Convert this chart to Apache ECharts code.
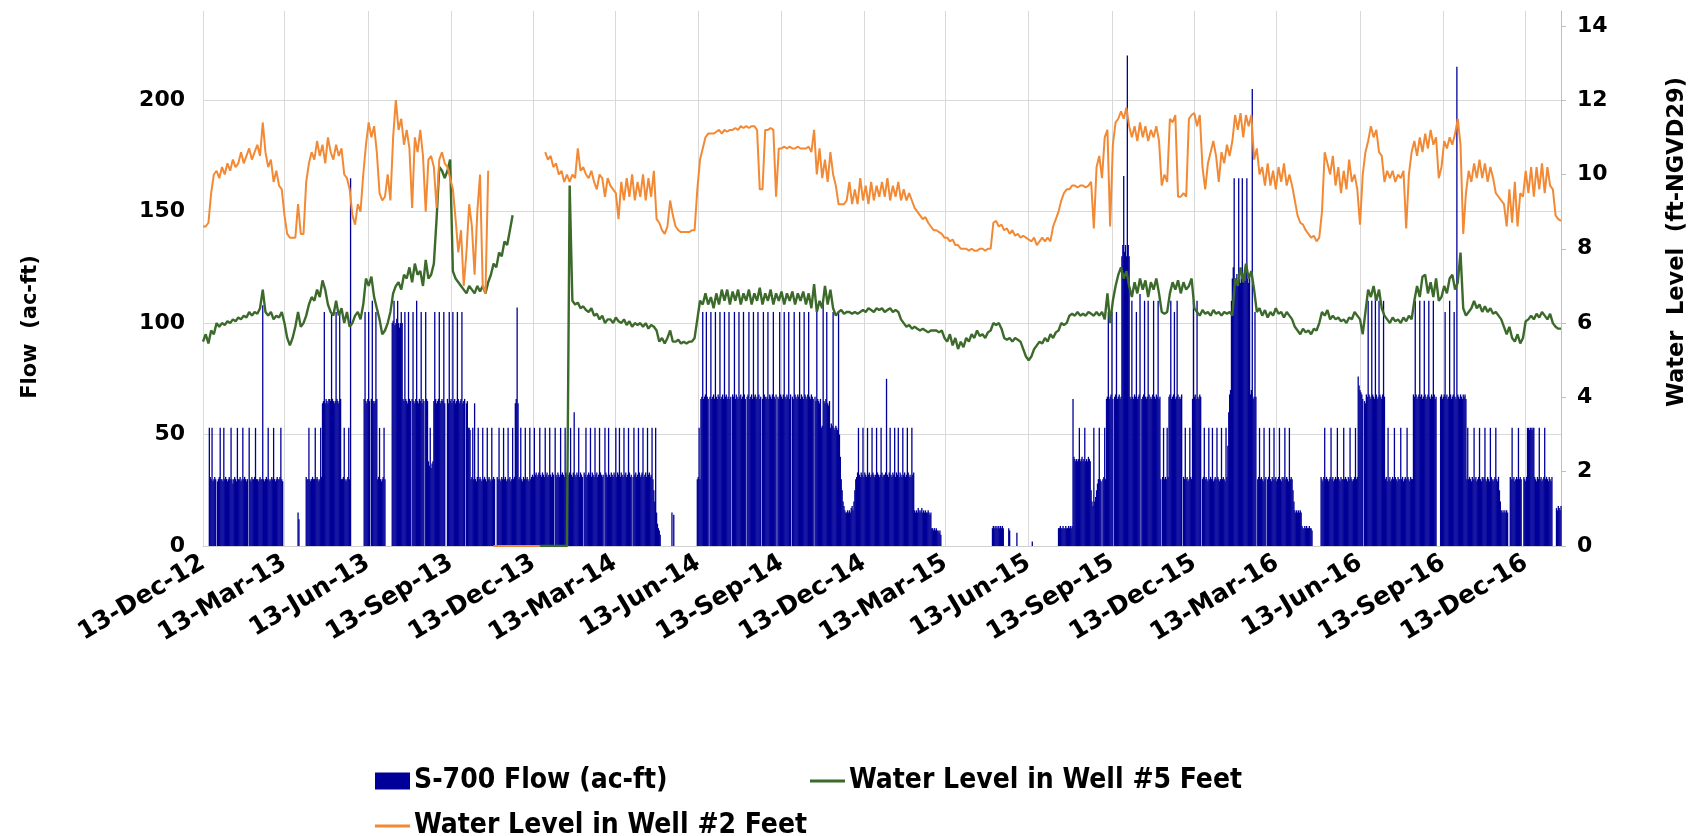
<!DOCTYPE html>
<html>
<head>
<meta charset="utf-8">
<script src="https://cdn.jsdelivr.net/npm/echarts@6/dist/echarts.min.js"></script>
<style>
html,body{margin:0;padding:0;background:#fff;}
#chart{width:1707px;height:836px;}
</style>
</head>
<body>
<div id="chart"></div>
<script>
// ---------- DATA ----------
const axisStartDate = '2012-12-13';
const axisEndDate = '2017-01-21';
const tickDates = ['2012-12-13','2013-03-13','2013-06-13','2013-09-13','2013-12-13','2014-03-13','2014-06-13','2014-09-13','2014-12-13','2015-03-13','2015-06-13','2015-09-13','2015-12-13','2016-03-13','2016-06-13','2016-09-13','2016-12-13'];
const tickLabels = ['13-Dec-12','13-Mar-13','13-Jun-13','13-Sep-13','13-Dec-13','13-Mar-14','13-Jun-14','13-Sep-14','13-Dec-14','13-Mar-15','13-Jun-15','13-Sep-15','13-Dec-15','13-Mar-16','13-Jun-16','13-Sep-16','13-Dec-16'];

// daily S-700 flow (ac-ft), starting 2012-12-13, one row per week
const flowStartDate = '2012-12-13';
const flow = [
0,0,0,0,0,0,0, 53,31,30,53,29,30,31, 30,0,29,30,31,53,30, 30,29,53,30,31,30,29,
30,31,30,53,30,28,30, 31,30,29,53,30,30,31, 29,30,53,30,31,30,29, 30,0,53,30,29,31,30,
30,31,53,30,30,29,30, 31,30,30,108,30,29,30, 31,30,53,30,29,30,31, 30,53,30,29,30,31,30,
30,31,53,30,29,0,0, 0,0,0,0,0,0,0, 0,0,0,0,0,0,0, 15,12,0,0,0,0,0,
0,0,31,30,30,53,30, 29,30,31,30,30,53,30, 31,30,29,30,53,31,64, 65,105,64,66,65,64,66,
66,65,105,66,65,64,65, 105,66,65,64,105,66,30, 30,31,53,30,29,30,31, 53,30,165,0,0,0,0,
0,0,0,0,0,0,0, 0,0,0,66,105,65,64, 66,105,65,0,66,110,65, 64,65,105,66,30,31,53,
30,29,30,31,53,30,0, 0,0,0,0,0,0,100, 101,110,99,100,102,110,100, 98,100,105,100,66,65,105,
66,65,64,105,66,65,0, 66,105,65,64,66,110,65, 64,66,65,105,64,66,65, 0,105,66,65,38,36,53,
35,37,38,65,105,66,64, 65,66,105,64,65,66,65, 105,64,0,0,66,64,105, 65,66,64,105,65,66,64,
65,105,66,64,65,66,105, 64,65,66,0,64,65,53, 53,52,30,31,53,30,64, 30,29,31,53,30,31,30,
29,53,30,31,30,29,53, 30,31,30,29,53,30,31, 30,0,0,31,30,53,30, 29,31,30,53,30,31,29,
30,53,30,31,29,30,53, 30,31,64,66,107,64,30, 31,53,30,29,31,30,53, 30,31,30,29,53,30,31,
32,31,53,32,33,31,32, 33,53,32,31,33,32,31, 53,32,33,31,32,53,32, 31,33,32,0,53,32,31,
33,32,31,53,32,33,32, 31,53,33,32,31,32,33, 53,32,31,33,60,32,31, 33,32,53,31,33,32,31,
0,33,32,53,31,32,33, 32,53,31,33,32,31,53, 32,33,31,32,53,33,32, 31,32,0,53,33,32,31,
53,32,31,33,32,31,33, 32,53,31,33,32,53,31, 33,32,31,53,32,33,31, 32,53,33,31,32,0,31,
53,32,33,31,32,53,33, 31,32,33,53,31,32,33, 31,53,32,33,31,32,53, 30,25,20,53,15,10,8,
7,5,0,0,0,0,0, 0,0,0,0,0,0,0, 15,0,14,0,0,0,0, 0,0,0,0,0,0,0,
0,0,0,0,0,0,0, 0,0,0,0,0,0,0, 30,31,53,30,66,67,105, 66,67,68,105,67,66,0,
67,105,66,67,68,66,105, 67,66,68,67,105,66,67, 68,66,105,67,68,66,67, 105,66,67,0,68,67,105,
66,68,67,66,105,67,68, 66,67,105,68,66,0,67, 68,105,66,67,68,66,105, 67,68,66,67,105,68,66,
67,0,66,105,68,67,66, 67,105,66,68,67,66,68, 105,67,66,68,0,67,66, 105,68,67,66,68,105,67,
66,68,67,105,66,68,0, 67,66,105,68,67,66,68, 67,105,66,68,67,66,105, 68,67,66,68,105,67,66,
68,67,66,0,67,65,105, 66,65,64,66,53,54,110, 65,64,66,105,64,63,65, 53,55,54,105,53,52,54,
53,52,105,50,40,30,25, 20,18,16,15,15,16,15, 16,15,17,18,16,20,25, 30,31,33,53,32,31,33,
32,53,31,33,32,31,53, 32,33,31,32,53,33,32, 31,32,53,33,32,31,32, 53,33,31,32,32,33,75,
32,31,33,53,32,31,33, 32,53,31,33,32,53,31, 33,32,31,53,32,33,31, 32,53,33,31,32,31,53,
32,33,16,15,16,15,17, 16,15,16,17,15,16,15, 16,15,15,16,15,14,15, 8,8,7,8,7,8,7,
7,6,7,5,0,0,0, 0,0,0,0,0,0,0, 0,0,0,0,0,0,0, 0,0,0,0,0,0,0,
0,0,0,0,0,0,0, 0,0,0,0,0,0,0, 0,0,0,0,0,0,0, 0,0,0,0,0,0,0,
0,0,0,0,8,9,8, 9,8,9,8,9,8,9, 8,9,8,0,0,0,0, 0,8,7,0,0,0,0,
0,0,0,6,0,0,0, 0,0,0,0,0,0,0, 0,0,0,0,0,0,2, 0,0,0,0,0,0,0,
0,0,0,0,0,0,0, 0,0,0,0,0,0,0, 0,0,0,0,0,0,0, 8,8,9,8,8,9,8,
8,9,8,8,9,8,9, 8,9,66,40,39,38,39, 38,39,53,38,39,40,38, 39,53,38,39,38,40,39,
38,25,20,18,53,20,22, 25,28,30,53,30,29,0, 30,31,53,30,66,67,105, 66,67,68,105,66,0,67,
68,105,66,67,68,66,67, 130,135,166,132,135,130,220, 135,130,67,66,110,67,66, 68,67,105,66,67,68,113,
0,66,67,68,110,67,66, 67,110,68,66,67,66,68, 110,67,66,68,67,110,66, 67,30,0,31,53,30,31,
30,53,31,67,68,110,66, 67,68,105,66,67,110,68, 66,67,66,68,0,31,30, 53,30,31,29,30,53,31,
30,66,110,67,68,66,110, 67,66,68,67,0,30,31, 53,30,31,30,29,53,30, 31,30,53,29,30,31,30,
53,31,30,29,30,53,30, 31,30,29,53,31,45,60, 68,70,110,120,125,165,118, 120,122,119,165,121,118,120,
165,122,120,119,123,165,120, 118,121,68,70,205,66,67, 105,67,0,30,31,53,30, 31,30,29,53,30,31,0,
30,31,53,30,29,31,30, 53,30,31,29,30,31,53, 30,29,31,30,31,53,30, 31,30,29,53,30,31,30,
25,20,16,15,16,15,16, 15,16,15,9,8,8,9, 8,9,8,8,9,8,8, 7,0,0,0,0,0,0,
0,0,0,31,30,29,31, 53,30,31,30,29,30,31, 53,30,31,29,30,31,30, 53,31,30,29,31,30,30,
53,30,31,30,29,31,30, 53,31,30,29,30,31,53, 30,31,76,72,70,69,68, 66,0,65,64,68,67,110,
68,67,66,110,68,67,66, 112,68,66,67,110,68,67, 66,68,110,67,30,31,29, 53,30,31,29,30,31,30,
53,31,30,29,31,30,30, 53,30,31,29,30,31,30, 53,31,30,29,31,30,30, 68,67,110,68,66,67,68,
110,67,68,66,67,110,68, 66,67,68,110,67,66,68, 67,110,68,66,67,0,0, 0,0,67,68,66,67,68,
105,67,68,66,67,110,68, 66,67,68,105,67,66,215, 68,67,66,68,67,66,68, 67,68,66,30,53,30,31,
30,29,31,30,53,30,31, 29,30,31,53,30,29,31, 30,31,53,30,29,31,30, 29,53,31,30,29,30,31,
53,30,29,31,25,20,16, 15,16,15,16,15,16,15, 0,0,31,30,53,30,31, 29,30,31,30,53,30,31,
30,0,0,31,30,29,31, 53,53,52,53,53,52,53, 53,31,30,29,31,30,53, 30,31,29,30,31,53,30,
31,30,29,31,30,29,31, 0,0,0,0,17,16,18, 17,16,18
];

// water levels (ft-NGVD29), every 3 days starting 2012-12-13
const levelStartDate = '2012-12-13';
const levelStepDays = 3;
const well5 = [
5.5,5.7,5.45,5.8,5.7,6.0,5.9,6.0,5.95,6.05,
6.0,6.1,6.05,6.15,6.1,6.2,6.15,6.3,6.2,6.3,
6.25,6.4,6.9,6.3,6.2,6.3,6.1,6.2,6.15,6.3,
6.0,5.6,5.4,5.6,5.9,6.3,5.9,6.0,6.2,6.5,
6.7,6.6,6.9,6.7,7.15,6.9,6.5,6.3,6.2,6.6,
6.2,6.4,6.0,6.3,5.9,6.0,6.2,6.3,6.1,6.5,
7.2,7.0,7.25,6.7,6.4,6.1,5.7,5.8,6.0,6.3,
6.8,7.0,7.1,6.9,7.3,7.2,7.5,7.1,7.6,7.3,
7.4,7.0,7.7,7.2,7.3,7.6,8.8,10.2,10.1,9.9,
10.1,10.4,7.4,7.2,7.1,7.0,6.9,6.8,7.0,6.9,
6.8,7.0,6.85,7.0,6.8,7.1,7.3,7.6,7.5,7.9,
7.8,8.2,8.1,8.5,8.9,null,null,null,null,null,
null,null,null,null,0,0,0,0,0,0,
0,0,0,0,0,9.7,6.6,6.5,6.55,6.4,
6.45,6.35,6.3,6.4,6.2,6.25,6.1,6.2,6.0,6.1,
6.1,6.0,6.15,6.05,6.0,6.1,5.95,6.05,5.9,6.0,
5.95,6.0,5.9,6.0,5.85,5.95,5.9,5.8,5.5,5.6,
5.45,5.6,5.8,5.5,5.5,5.55,5.45,5.5,5.45,5.5,
5.5,5.6,6.1,6.6,6.5,6.8,6.5,6.7,6.4,6.8,
6.5,6.9,6.6,6.9,6.5,6.85,6.6,6.9,6.5,6.8,
6.6,6.9,6.5,6.8,6.6,6.95,6.5,6.8,6.6,6.9,
6.5,6.8,6.6,6.85,6.5,6.8,6.6,6.85,6.5,6.8,
6.6,6.85,6.5,6.8,6.4,7.05,6.3,6.6,6.4,7.0,
6.5,6.9,6.4,6.2,6.3,6.35,6.25,6.3,6.3,6.25,
6.3,6.25,6.3,6.35,6.3,6.4,6.35,6.3,6.4,6.35,
6.4,6.3,6.35,6.4,6.3,6.35,6.3,6.1,6.0,5.9,
5.95,5.85,5.9,5.85,5.8,5.85,5.8,5.75,5.8,5.8,
5.8,5.75,5.8,5.6,5.5,5.7,5.4,5.6,5.3,5.5,
5.35,5.6,5.5,5.7,5.6,5.8,5.65,5.7,5.6,5.75,
5.8,6.0,5.95,6.0,5.85,5.6,5.55,5.6,5.5,5.6,
5.55,5.5,5.3,5.1,5.0,5.1,5.3,5.4,5.5,5.45,
5.6,5.5,5.7,5.6,5.75,5.8,6.0,5.95,6.0,6.2,
6.25,6.2,6.3,6.2,6.25,6.2,6.3,6.25,6.2,6.3,
6.2,6.3,6.1,6.8,6.0,6.6,7.0,7.3,7.5,7.2,
7.4,7.0,6.7,7.1,6.8,7.2,6.9,7.15,6.7,7.1,
6.9,7.2,6.8,6.3,6.25,6.3,6.8,7.1,6.9,7.15,
6.8,7.1,6.9,7.0,7.2,6.4,6.3,6.2,6.35,6.25,
6.3,6.2,6.35,6.25,6.3,6.2,6.3,6.25,6.3,6.2,
7.2,7.0,7.5,7.1,7.6,7.2,7.4,6.9,6.3,6.4,
6.2,6.35,6.15,6.3,6.2,6.4,6.25,6.3,6.15,6.3,
6.2,6.1,5.9,5.8,5.7,5.85,5.75,5.8,5.7,5.85,
5.8,6.0,6.3,6.2,6.35,6.1,6.2,6.1,6.15,6.05,
6.1,6.0,6.15,6.1,6.3,6.2,6.1,5.7,6.3,6.9,
6.7,7.0,6.6,6.9,6.4,6.2,6.1,6.0,6.15,6.05,
6.1,6.0,6.15,6.05,6.2,6.1,6.6,7.0,6.7,7.25,
7.3,6.8,7.1,6.7,7.2,6.6,6.7,7.0,6.8,7.2,
7.3,6.9,7.1,7.9,6.4,6.2,6.3,6.4,6.6,6.4,
6.5,6.3,6.45,6.3,6.4,6.25,6.3,6.2,6.1,5.9,
5.7,5.9,5.6,5.5,5.7,5.45,5.6,6.05,6.1,6.2,
6.1,6.25,6.15,6.3,6.2,6.1,6.25,6.0,5.9,5.85,
5.85
];
const well2 = [
8.6,8.6,8.7,9.5,10.0,10.1,9.9,10.2,10.0,10.3,
10.1,10.4,10.2,10.3,10.6,10.3,10.5,10.7,10.4,10.6,
10.8,10.5,11.4,10.6,10.2,10.4,9.8,10.1,9.7,9.6,
8.9,8.4,8.3,8.3,8.3,9.2,8.4,8.4,9.8,10.3,
10.6,10.4,10.9,10.5,10.8,10.3,11.0,10.6,10.4,10.8,
10.5,10.7,10.0,9.9,9.6,8.9,8.65,9.2,9.0,10.0,
10.8,11.4,11.0,11.3,10.6,9.5,9.3,9.4,10.0,9.3,
11.0,12.0,11.2,11.5,10.8,11.2,10.7,9.1,11.0,10.6,
11.2,10.5,9.0,10.4,10.5,10.2,9.1,10.4,10.6,10.3,
10.2,9.9,9.6,8.8,7.9,8.5,7.0,7.9,9.2,8.6,
7.3,9.0,10.0,7.0,6.8,10.1,null,0,0,0,
0,0,0,0,0,0,0,0,0,0,
0,0,0,0,0,null,10.6,10.4,10.5,10.2,
10.3,10.0,10.1,9.8,10.0,9.8,10.0,9.9,10.7,10.1,
10.2,10.0,9.9,10.1,9.8,9.6,10.0,9.9,9.4,9.9,
9.7,9.6,9.5,8.8,9.8,9.3,9.9,9.4,10.0,9.3,
9.8,9.4,10.0,9.3,9.9,9.4,10.1,8.8,8.7,8.5,
8.4,8.6,9.3,8.9,8.6,8.5,8.45,8.45,8.45,8.45,
8.5,8.5,9.6,10.4,10.7,11.0,11.1,11.1,11.1,11.15,
11.2,11.1,11.2,11.15,11.2,11.2,11.25,11.2,11.3,11.25,
11.3,11.25,11.3,11.3,11.2,9.6,9.6,11.2,11.2,11.25,
11.2,9.4,10.7,10.7,10.75,10.7,10.75,10.7,10.7,10.75,
10.7,10.7,10.7,10.75,10.6,11.2,10.0,10.7,9.9,10.4,
9.8,10.6,10.0,9.7,9.2,9.2,9.2,9.3,9.8,9.2,
9.6,9.2,9.9,9.3,9.7,9.2,9.8,9.3,9.7,9.4,
9.8,9.4,9.9,9.3,9.7,9.4,9.8,9.3,9.6,9.3,
9.5,9.3,9.1,9.0,8.9,8.8,8.85,8.7,8.6,8.5,
8.5,8.45,8.4,8.3,8.3,8.2,8.25,8.1,8.1,8.0,
8.0,8.0,7.95,8.0,7.95,7.95,8.0,8.0,7.95,8.0,
8.0,8.7,8.75,8.6,8.65,8.5,8.55,8.4,8.5,8.35,
8.4,8.3,8.35,8.3,8.25,8.2,8.3,8.1,8.2,8.3,
8.2,8.3,8.2,8.6,8.8,9.0,9.3,9.5,9.6,9.6,
9.7,9.7,9.65,9.7,9.7,9.65,9.7,9.8,8.55,10.2,
10.5,9.9,11.0,11.2,8.6,10.8,11.4,11.5,11.7,11.5,
11.8,11.3,11.0,11.3,10.9,11.4,11.0,11.3,10.9,11.2,
11.0,11.3,10.9,9.7,10.0,9.8,11.5,11.4,11.6,9.4,
9.4,9.5,9.4,11.5,11.6,11.65,11.3,11.6,10.2,9.6,
10.3,10.6,10.9,10.5,9.8,10.6,10.3,10.8,10.5,10.9,
11.6,11.2,11.65,11.0,11.6,11.3,11.6,10.4,10.7,10.0,
10.2,9.7,10.3,9.7,10.1,9.6,10.2,9.8,10.3,9.7,
10.0,9.7,9.3,8.9,8.7,8.65,8.5,8.4,8.3,8.35,
8.2,8.3,9.0,10.6,10.3,10.0,10.5,9.7,10.2,9.5,
10.1,9.6,10.4,9.8,10.0,9.6,8.65,10.0,10.6,10.9,
11.3,11.0,11.2,10.6,10.5,9.8,10.1,9.9,10.1,9.8,
10.0,9.9,10.1,8.55,10.0,10.6,10.9,10.5,11.0,10.6,
11.1,10.7,11.2,10.8,11.0,9.9,10.2,10.9,10.7,11.0,
10.8,11.1,11.5,10.8,8.4,9.5,10.1,9.8,10.3,9.9,
10.4,9.9,10.3,9.8,10.2,9.9,9.5,9.4,9.3,9.2,
8.6,9.6,8.7,9.8,8.6,9.5,9.4,10.1,9.5,10.2,
9.4,10.2,9.6,10.3,9.5,10.2,9.7,9.6,8.9,8.8,
8.75
];

const seriesNames = ['S-700 Flow (ac-ft)', 'Water Level in Well #5 Feet', 'Water Level in Well #2 Feet'];

// ---------- BUILD ----------
const DAY = 86400000;
function utc(s){ const p = s.split('-').map(Number); return Date.UTC(p[0], p[1]-1, p[2]); }
const tickValues = tickDates.map(utc);
const labelOf = {};
tickValues.forEach((t,i)=>{ labelOf[t] = tickLabels[i]; });
const f0 = utc(flowStartDate), l0 = utc(levelStartDate);
const flowData = flow.map((v,i)=>[f0 + i*DAY, v]);
const w5Data = well5.map((v,i)=>[l0 + i*levelStepDays*DAY, v]);
const w2Data = well2.map((v,i)=>[l0 + i*levelStepDays*DAY, v]);

const tickFont = {fontFamily:'DejaVu Sans', fontWeight:'bold', fontSize:22, color:'#000'};
const legendFont = {fontFamily:"'DejaVu Sans Condensed','Liberation Sans Narrow','DejaVu Sans'", fontWeight:'bold', fontSize:28, color:'#000', padding:[0,0,0,-1]};

const chart = echarts.init(document.getElementById('chart'), null, {renderer:'canvas'});
chart.setOption({
  animation:false,
  backgroundColor:'#fff',
  grid:{left:203, right:146, top:11, bottom:290, containLabel:false},
  legend:[
    {left:370, top:762, itemWidth:35, itemHeight:17, textStyle:legendFont,
     data:[{name:seriesNames[0], icon:'rect'}]},
    {left:805, top:762, itemWidth:35, itemHeight:3, textStyle:legendFont,
     data:[{name:seriesNames[1], icon:'rect'}]},
    {left:370, top:807, itemWidth:35, itemHeight:3, textStyle:legendFont,
     data:[{name:seriesNames[2], icon:'rect'}]}
  ],
  xAxis:{
    type:'value', min:utc(axisStartDate), max:utc(axisEndDate), scale:true,
    axisLine:{show:true, onZero:false, lineStyle:{color:'#d0d0d0', width:1}},
    axisTick:{show:false, customValues:tickValues},
    axisLabel:Object.assign({}, tickFont, {customValues:tickValues, rotate:31, margin:15, fontSize:25,
      formatter:(v)=>labelOf[v] || ''}),
    splitLine:{show:true, lineStyle:{color:'#d9d9d9', width:1}}
  },
  yAxis:[
    {type:'value', min:0, max:240, interval:50, position:'left',
     axisLine:{show:false}, axisTick:{show:false},
     axisLabel:Object.assign({margin:18, showMaxLabel:false}, tickFont),
     splitLine:{show:true, showMaxLine:false, lineStyle:{color:'#d9d9d9', width:1}}},
    {type:'value', min:0, max:14.4, interval:2, position:'right',
     axisLine:{show:true, lineStyle:{color:'#bfbfbf', width:1}},
     axisTick:{show:true, length:5, lineStyle:{color:'#bfbfbf'}},
     axisLabel:Object.assign({margin:16, showMaxLabel:false}, tickFont),
     splitLine:{show:false}}
  ],
  graphic:[
    {type:'text', x:31, y:327, rotation:Math.PI/2,
     style:{text:'Flow  (ac-ft)', font:'bold 21px "DejaVu Sans"', fill:'#000', textAlign:'center', textVerticalAlign:'middle'}},
    {type:'text', x:1677, y:242, rotation:Math.PI/2,
     style:{text:'Water  Level  (ft-NGVD29)', font:'bold 22.5px "DejaVu Sans"', fill:'#000', textAlign:'center', textVerticalAlign:'middle'}}
  ],
  series:[
    {name:seriesNames[0], type:'bar', yAxisIndex:0, data:flowData, barWidth:1.3,
     itemStyle:{color:'#000099'}, z:2, silent:true, large:false},
    {name:seriesNames[1], type:'line', yAxisIndex:1, data:w5Data, symbol:'none', showSymbol:false,
     lineStyle:{color:'#3b6a2a', width:2.4}, itemStyle:{color:'#3b6a2a'}, z:3, silent:true, connectNulls:false},
    {name:seriesNames[2], type:'line', yAxisIndex:1, data:w2Data, symbol:'none', showSymbol:false,
     lineStyle:{color:'#f28a35', width:2}, itemStyle:{color:'#f28a35'}, z:4, silent:true, connectNulls:false}
  ]
});
</script>
</body>
</html>
